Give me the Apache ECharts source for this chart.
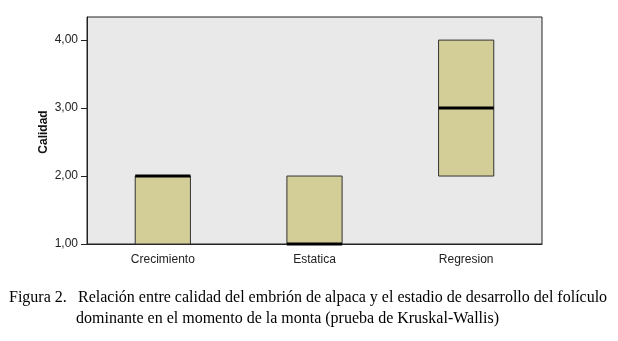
<!DOCTYPE html>
<html>
<head>
<meta charset="utf-8">
<script src="https://cdn.jsdelivr.net/npm/echarts@6/dist/echarts.min.js"></script>
<style>
  html, body { margin: 0; padding: 0; background: #fff; }
  #chart { width: 618px; height: 341px; }
</style>
</head>
<body>
<div id="chart"></div>
<script>
// categories and box values (low quartile, median, high quartile)
const categories = ['Crecimiento', 'Estatica', 'Regresion'];
const boxLow = [1, 1, 2];
const boxMedian = [2, 1, 3];
const boxHigh = [2, 2, 4];
const yTicks = [1, 2, 3, 4];

const boxData = categories.map((c, i) => [i, boxLow[i], boxMedian[i], boxHigh[i]]);

const serif = '16px "Liberation Serif", "Times New Roman", serif';
const chart = echarts.init(document.getElementById('chart'));

const option = {
  animation: false,
  grid: {
    left: 87, top: 17, right: 76, bottom: 97,
    show: true,
    backgroundColor: '#e9e9e9',
    borderColor: '#222',
    borderWidth: 1
  },
  xAxis: {
    type: 'category',
    data: categories,
    axisLine: { lineStyle: { color: '#222' } },
    axisTick: { alignWithLabel: true, length: 6, lineStyle: { color: '#222' } },
    axisLabel: { color: '#222', fontFamily: 'Arial, Liberation Sans', fontSize: 12, margin: 10 },
    splitLine: { show: false }
  },
  yAxis: {
    type: 'value',
    min: 1,
    max: 4.34,
    interval: 1,
    axisLine: { show: true, lineStyle: { color: '#222' } },
    axisTick: { show: true, length: 6, lineStyle: { color: '#222' } },
    axisLabel: {
      color: '#222', fontFamily: 'Arial, Liberation Sans', fontSize: 12, margin: 9,
      showMaxLabel: false,
      formatter: v => yTicks.includes(v) ? v.toFixed(2).replace('.', ',') : ''
    },
    splitLine: { show: false }
  },
  series: [{
    type: 'custom',
    data: boxData,
    encode: { x: 0, y: [1, 2, 3] },
    renderItem: (params, api) => {
      const i = api.value(0);
      const lo = api.coord([i, api.value(1)]);
      const med = api.coord([i, api.value(2)]);
      const hi = api.coord([i, api.value(3)]);
      const halfW = api.size([1, 0])[0] * 0.182;
      return {
        type: 'group',
        children: [{
          type: 'rect',
          shape: { x: lo[0] - halfW, y: hi[1], width: halfW * 2, height: lo[1] - hi[1] },
          style: { fill: '#d3cd98', stroke: '#333', lineWidth: 1 }
        }, {
          type: 'line',
          shape: { x1: med[0] - halfW, y1: med[1], x2: med[0] + halfW, y2: med[1] },
          style: { stroke: '#000', lineWidth: 3 }
        }]
      };
    }
  }],
  graphic: [{
    // y axis title
    type: 'text', x: 44, y: 132, rotation: Math.PI / 2,
    style: {
      text: 'Calidad', font: 'bold 12px Arial, "Liberation Sans", sans-serif', fill: '#111',
      textAlign: 'center', textVerticalAlign: 'middle'
    }
  }, {
    type: 'text', left: 9, top: 290,
    style: { text: 'Figura 2.', font: serif, fill: '#000' }
  }, {
    type: 'text', left: 78, top: 290,
    style: { text: 'Relación entre calidad del embrión de alpaca y el estadio de desarrollo del folículo', font: serif, fill: '#000' }
  }, {
    type: 'text', left: 76, top: 311,
    style: { text: 'dominante en el momento de la monta (prueba de Kruskal-Wallis)', font: serif, fill: '#000' }
  }]
};

chart.setOption(option);
</script>
</body>
</html>
